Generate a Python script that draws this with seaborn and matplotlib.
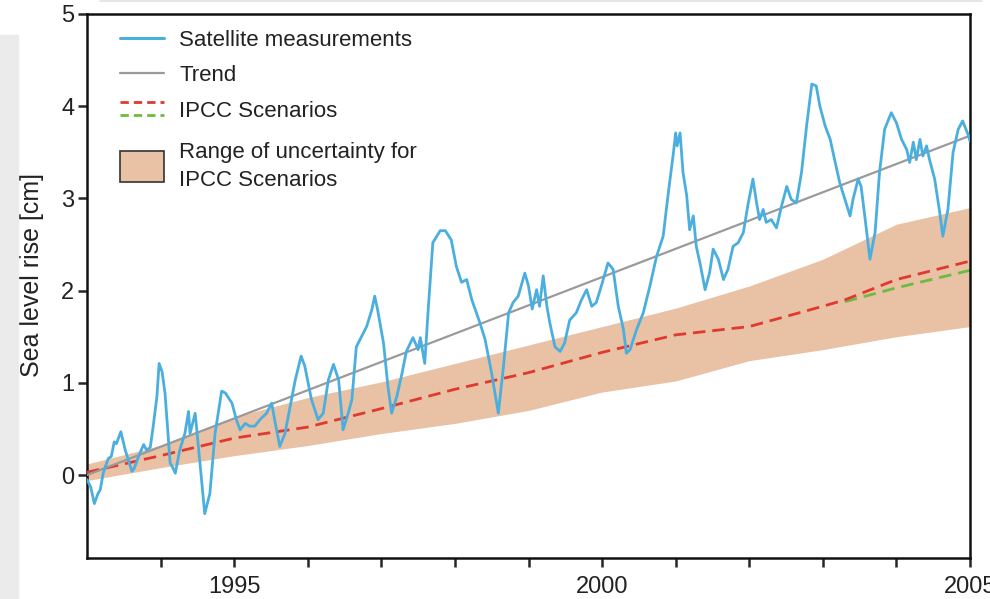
import numpy as np
import pandas as pd
import matplotlib
matplotlib.use("Agg")
import matplotlib.pyplot as plt
import seaborn as sns
from matplotlib.lines import Line2D
from matplotlib.patches import Rectangle, Patch
from matplotlib.legend_handler import HandlerBase, HandlerPatch

# --- data ---
sat_year = [1993.00, 1993.05, 1993.10, 1993.15, 1993.18, 1993.22, 1993.29, 1993.33, 1993.37, 1993.40,
            1993.46, 1993.52, 1993.61, 1993.64, 1993.72, 1993.77, 1993.81, 1993.86, 1993.90, 1993.95,
            1993.98, 1994.02, 1994.06, 1994.13, 1994.16, 1994.20, 1994.26, 1994.33, 1994.38, 1994.40,
            1994.47, 1994.54, 1994.60, 1994.67, 1994.74, 1994.83, 1994.88, 1994.97, 1995.03, 1995.08,
            1995.15, 1995.21, 1995.28, 1995.35, 1995.44, 1995.51, 1995.55, 1995.62, 1995.69, 1995.76,
            1995.83, 1995.91, 1995.96, 1996.05, 1996.14, 1996.21, 1996.28, 1996.35, 1996.42, 1996.48,
            1996.55, 1996.60, 1996.66, 1996.73, 1996.80, 1996.87, 1996.91, 1996.95, 1997.03, 1997.09,
            1997.14, 1997.21, 1997.28, 1997.34, 1997.43, 1997.50, 1997.53, 1997.59, 1997.64, 1997.70,
            1997.80, 1997.87, 1997.95, 1998.02, 1998.09, 1998.16, 1998.23, 1998.34, 1998.41, 1998.50,
            1998.59, 1998.66, 1998.73, 1998.79, 1998.86, 1998.95, 1999.00, 1999.05, 1999.11, 1999.15,
            1999.20, 1999.25, 1999.29, 1999.36, 1999.43, 1999.49, 1999.56, 1999.65, 1999.72, 1999.79,
            1999.86, 1999.92, 1999.99, 2000.08, 2000.15, 2000.22, 2000.29, 2000.33, 2000.38, 2000.47,
            2000.56, 2000.65, 2000.74, 2000.83, 2000.90, 2000.97, 2001.00, 2001.02, 2001.06, 2001.10,
            2001.15, 2001.19, 2001.24, 2001.28, 2001.33, 2001.40, 2001.46, 2001.51, 2001.58, 2001.65,
            2001.71, 2001.78, 2001.85, 2001.92, 2001.98, 2002.05, 2002.10, 2002.14, 2002.19, 2002.23,
            2002.30, 2002.37, 2002.44, 2002.51, 2002.57, 2002.64, 2002.71, 2002.78, 2002.85, 2002.91,
            2002.96, 2003.03, 2003.10, 2003.16, 2003.23, 2003.30, 2003.37, 2003.41, 2003.48, 2003.52,
            2003.57, 2003.64, 2003.71, 2003.77, 2003.84, 2003.93, 2004.00, 2004.07, 2004.14, 2004.18,
            2004.23, 2004.27, 2004.32, 2004.36, 2004.41, 2004.45, 2004.52, 2004.59, 2004.63, 2004.70,
            2004.77, 2004.84, 2004.90, 2004.97, 2005.00]
sat_level = [-0.05, -0.13, -0.31, -0.20, -0.16, 0.02, 0.18, 0.20, 0.36, 0.34,
             0.47, 0.27, 0.04, 0.07, 0.24, 0.33, 0.27, 0.30, 0.53, 0.85,
             1.21, 1.12, 0.89, 0.13, 0.09, 0.02, 0.27, 0.45, 0.69, 0.45,
             0.67, 0.09, -0.42, -0.20, 0.45, 0.91, 0.89, 0.78, 0.60, 0.49,
             0.56, 0.53, 0.53, 0.60, 0.67, 0.78, 0.60, 0.31, 0.45, 0.74,
             1.03, 1.29, 1.18, 0.82, 0.60, 0.67, 1.03, 1.20, 1.03, 0.49,
             0.67, 0.82, 1.39, 1.50, 1.61, 1.79, 1.94, 1.79, 1.43, 0.96,
             0.67, 0.85, 1.10, 1.34, 1.49, 1.36, 1.49, 1.21, 1.83, 2.52,
             2.65, 2.65, 2.55, 2.26, 2.09, 2.12, 1.90, 1.65, 1.47, 1.10,
             0.67, 1.18, 1.76, 1.87, 1.94, 2.19, 2.05, 1.80, 2.01, 1.83,
             2.16, 1.83, 1.65, 1.39, 1.34, 1.43, 1.68, 1.76, 1.90, 2.01,
             1.83, 1.87, 2.05, 2.30, 2.23, 1.83, 1.58, 1.32, 1.36, 1.58,
             1.76, 2.05, 2.37, 2.59, 3.06, 3.50, 3.71, 3.57, 3.71, 3.28,
             3.03, 2.66, 2.81, 2.48, 2.30, 2.01, 2.19, 2.45, 2.34, 2.12,
             2.23, 2.48, 2.52, 2.63, 2.92, 3.21, 2.95, 2.77, 2.88, 2.74,
             2.77, 2.68, 2.92, 3.13, 2.99, 2.95, 3.28, 3.79, 4.24, 4.22,
             4.00, 3.79, 3.64, 3.42, 3.17, 2.99, 2.81, 2.99, 3.21, 3.13,
             2.81, 2.34, 2.63, 3.28, 3.75, 3.93, 3.82, 3.64, 3.53, 3.39,
             3.61, 3.42, 3.64, 3.46, 3.57, 3.42, 3.21, 2.84, 2.59, 2.88,
             3.50, 3.75, 3.84, 3.70, 3.62]

trend_year = [1993.0, 2005.0]
trend_level = [0.0, 3.68]

band_year = [1993, 1994, 1995, 1996, 1997, 1998, 1999, 2000, 2001, 2002, 2003, 2004, 2005]
band_upper = [0.12, 0.32, 0.63, 0.84, 1.01, 1.21, 1.41, 1.61, 1.81, 2.05, 2.34, 2.72, 2.90]
band_lower = [-0.06, 0.08, 0.21, 0.32, 0.45, 0.56, 0.70, 0.90, 1.02, 1.24, 1.36, 1.50, 1.61]

ipcc_red_year = [1993, 1994, 1995, 1996, 1997, 1998, 1999, 2000, 2001, 2002, 2003, 2003.3, 2004, 2005]
ipcc_red_level = [0.03, 0.21, 0.40, 0.52, 0.72, 0.93, 1.11, 1.33, 1.52, 1.61, 1.83, 1.90, 2.12, 2.32]
ipcc_green_year = [2003.3, 2004, 2005]
ipcc_green_level = [1.88, 2.03, 2.22]

xticks = [1995, 2000, 2005]
yticks = [0, 1, 2, 3, 4, 5]

blue = "#4aafdf"
grey = "#9a9a9a"
red = "#e0392e"
green = "#6cbb40"
peach = "#e9c1a4"
ink = "#222222"

sns.set_style("ticks")
plt.rcParams["font.family"] = ["Liberation Sans", "DejaVu Sans"]

fig = plt.figure(figsize=(9.9, 5.99), dpi=100)
# grey strip on the left and faint line at the top (page background)
fig.patches.append(Rectangle((0, 0), 18 / 990, 564 / 599, transform=fig.transFigure,
                             color="#ebebeb", zorder=0))
fig.lines.append(Line2D([100 / 990, 982 / 990], [0.998, 0.998], transform=fig.transFigure,
                        color="#e2e2e2", lw=1.2))

ax = fig.add_axes([87 / 990, 41 / 599, 883 / 990, 544 / 599])

ax.fill_between(band_year, band_lower, band_upper, color=peach, lw=0, zorder=1)
sns.lineplot(x=ipcc_green_year, y=ipcc_green_level, ax=ax, color=green, lw=2,
             linestyle=(0, (4.5, 2.5)), zorder=2)
sns.lineplot(x=ipcc_red_year, y=ipcc_red_level, ax=ax, color=red, lw=2,
             linestyle=(0, (4.5, 2.5)), zorder=3)
sns.lineplot(x=trend_year, y=trend_level, ax=ax, color=grey, lw=1.6, zorder=4)
sat = pd.DataFrame({"year": sat_year, "level": sat_level})
sns.lineplot(data=sat, x="year", y="level", ax=ax, color=blue, lw=2.0,
             estimator=None, sort=False, zorder=5)

ax.set_xlim(1993, 2005)
ax.set_ylim(-0.9, 5)
ax.set_xticks(xticks)
ax.set_xticklabels([str(t) for t in xticks])
ax.set_xticks(list(range(1994, 2005)), minor=True)
ax.set_yticks(yticks)
ax.tick_params(axis="x", which="both", direction="out", length=6.5, width=1.8,
               labelsize=17, pad=6.5, labelcolor=ink)
ax.tick_params(axis="y", which="major", direction="out", length=6.5, width=1.8,
               labelsize=17, pad=2.5, labelcolor=ink)
ax.set_xlabel("")
ax.set_ylabel("Sea level rise [cm]", fontsize=18, color=ink)
ax.yaxis.set_label_coords(-0.049, 0.52)
for sp in ax.spines.values():
    sp.set_visible(True)
    sp.set_linewidth(1.8)
    sp.set_color("#111111")


class DoubleDash(HandlerBase):
    def create_artists(self, legend, orig_handle, xdescent, ydescent, width, height,
                       fontsize, trans):
        y0 = -ydescent + height / 2
        top = Line2D([-xdescent, -xdescent + width], [y0 + 0.42 * height] * 2, color=red,
                     lw=2, linestyle=(0, (3.0, 1.8)), transform=trans)
        bot = Line2D([-xdescent, -xdescent + width], [y0 - 0.42 * height] * 2, color=green,
                     lw=2, linestyle=(0, (3.0, 1.8)), transform=trans)
        return [top, bot]


def big_patch(legend, orig_handle, xdescent, ydescent, width, height, fontsize):
    return Rectangle((-xdescent, -ydescent - 0.47 * height), width, 1.94 * height)


ipcc_handle = object()
leg_kw = dict(frameon=False, fontsize=16, handlelength=2.0, handletextpad=0.68,
              borderpad=0, borderaxespad=0, labelcolor=ink)

leg1 = ax.legend([Line2D([], [], color=blue, lw=2.2),
                  Line2D([], [], color=grey, lw=1.6),
                  ipcc_handle],
                 ["Satellite measurements", "Trend", "IPCC Scenarios"],
                 loc="upper left", bbox_to_anchor=(0.037, 0.971), labelspacing=0.65,
                 handler_map={ipcc_handle: DoubleDash()}, **leg_kw)
ax.add_artist(leg1)

leg2 = ax.legend([Patch(facecolor=peach, edgecolor="#333333", lw=1.2)],
                 ["Range of uncertainty for\nIPCC Scenarios"],
                 loc="upper left", bbox_to_anchor=(0.037, 0.765),
                 handler_map={Patch: HandlerPatch(patch_func=big_patch)}, **leg_kw)
for t in leg2.get_texts():
    t.set_linespacing(1.43)

fig.savefig("out.png", dpi=100)
